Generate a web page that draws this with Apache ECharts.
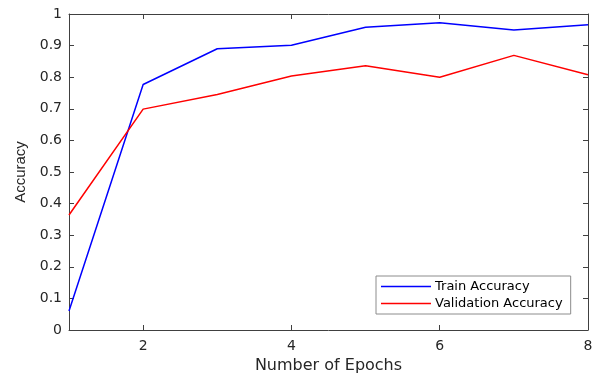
<!DOCTYPE html>
<html>
<head>
<meta charset="utf-8">
<script src="https://cdn.jsdelivr.net/npm/echarts@6/dist/echarts.min.js"></script>
<style>
html,body{margin:0;padding:0;background:#fff;}
#chart{width:600px;height:383px;}
</style>
</head>
<body>
<div id="chart"></div>
<script>
const epochs = [1, 2, 3, 4, 5, 6, 7, 8];
const trainAccuracy = [0.06, 0.777, 0.890, 0.901, 0.958, 0.972, 0.949, 0.966];
const validationAccuracy = [0.364, 0.699, 0.745, 0.804, 0.836, 0.800, 0.869, 0.808];
const xTickValues = [2, 4, 6, 8];
const yTicks = [0, 0.1, 0.2, 0.3, 0.4, 0.5, 0.6, 0.7, 0.8, 0.9, 1];

const axisColor = '#404040';
const textColor = '#262626';
const hFont = 'DejaVu Sans';

const chart = echarts.init(document.getElementById('chart'), null, {renderer: 'canvas'});

function xAxisDef(pos, showLabel) {
  return {
    type: 'value', position: pos, min: 1, max: 8,
    axisLine: {show: true, onZero: false, lineStyle: {color: axisColor, width: 1}},
    axisTick: {show: true, inside: true, length: 5, customValues: xTickValues, lineStyle: {color: axisColor}},
    axisLabel: {show: showLabel, customValues: xTickValues, color: textColor, fontFamily: hFont, fontSize: 14, margin: 9},
    splitLine: {show: false}
  };
}
function yAxisDef(pos, showLabel) {
  return {
    type: 'value', position: pos, min: 0, max: 1, interval: 0.1,
    axisLine: {show: true, onZero: false, lineStyle: {color: axisColor, width: 1}},
    axisTick: {show: true, inside: true, length: 5, lineStyle: {color: axisColor}},
    axisLabel: {show: showLabel, color: textColor, fontFamily: hFont, fontSize: 14, margin: 7,
      formatter: v => String(Math.round(v * 10) / 10)},
    splitLine: {show: false}
  };
}

const xMain = xAxisDef('bottom', true);
xMain.name = 'Number of Epochs';
xMain.nameLocation = 'middle';
xMain.nameGap = 24;
xMain.nameTextStyle = {color: textColor, fontFamily: hFont, fontSize: 16};
const yMain = yAxisDef('left', true);
yMain.name = 'Accuracy';
yMain.nameLocation = 'middle';
yMain.nameGap = 33;
yMain.nameTextStyle = {color: textColor, fontFamily: 'Liberation Sans', fontSize: 15};

chart.setOption({
  animation: false,
  backgroundColor: '#fff',
  grid: {left: 69, right: 12, top: 14, bottom: 53, containLabel: false},
  xAxis: [xMain, xAxisDef('top', false)],
  yAxis: [yMain, yAxisDef('right', false)],
  legend: {
    orient: 'vertical',
    left: 376, top: 276,
    padding: [3, 8, 3, 5],
    itemGap: 2,
    itemWidth: 50, itemHeight: 1.5,
    icon: 'rect',
    backgroundColor: '#fff',
    borderColor: '#8c8c8c', borderWidth: 1,
    textStyle: {color: '#000', fontFamily: hFont, fontSize: 13, lineHeight: 15, padding: [0, 0, 0, -1]},
    data: ['Train Accuracy', 'Validation Accuracy']
  },
  series: [
    {
      name: 'Train Accuracy', type: 'line', symbol: 'none',
      data: epochs.map((e, i) => [e, trainAccuracy[i]]),
      lineStyle: {color: '#0000ff', width: 1.5}, itemStyle: {color: '#0000ff'}
    },
    {
      name: 'Validation Accuracy', type: 'line', symbol: 'none',
      data: epochs.map((e, i) => [e, validationAccuracy[i]]),
      lineStyle: {color: '#ff0000', width: 1.5}, itemStyle: {color: '#ff0000'}
    }
  ]
});
</script>
</body>
</html>
